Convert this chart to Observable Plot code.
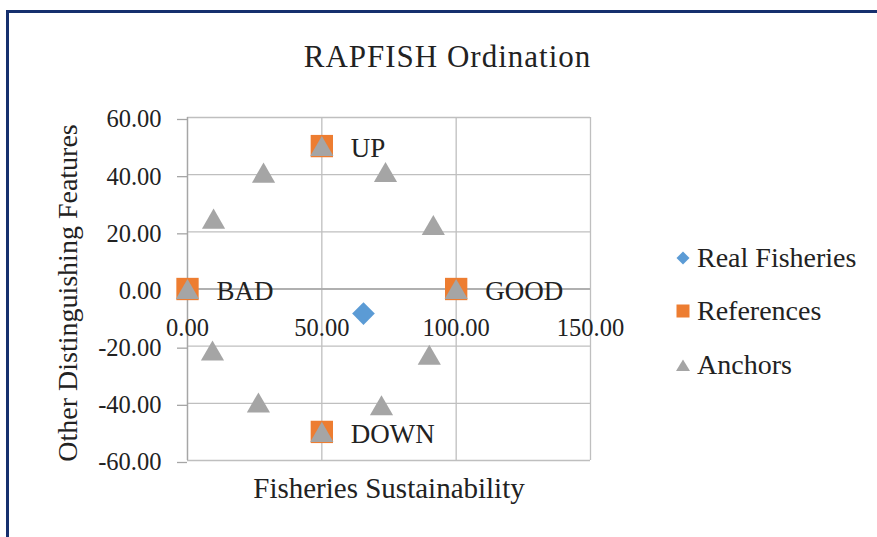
<!DOCTYPE html>
<html><head><meta charset="utf-8">
<script src="https://cdn.jsdelivr.net/npm/d3@7"></script>
<script src="https://cdn.jsdelivr.net/npm/@observablehq/plot@0.6"></script>
<style>
html,body{margin:0;padding:0;background:#fff;overflow:hidden;}
#wrap{position:relative;width:877px;height:537px;overflow:hidden;font-family:"Liberation Serif",serif;color:#222;}
#border{position:absolute;left:6px;top:10px;width:920px;height:600px;border:3px solid #16306E;box-sizing:border-box;z-index:2;pointer-events:none;}
#chart{position:absolute;left:0;top:0;}
#title{position:absolute;left:0;width:895px;top:39px;text-align:center;font-size:31px;line-height:36px;letter-spacing:1px;white-space:nowrap;}
.leg{position:absolute;left:676px;height:30px;line-height:30px;font-size:28px;white-space:nowrap;}
.leg svg{position:absolute;left:0;top:8px;}
.leg span{position:absolute;left:21px;top:0;}
</style>
</head><body>
<div id="wrap">
  <div id="chart"></div>
  <div id="title">RAPFISH Ordination</div>
  <div id="legend"></div>
  <div id="border"></div>
</div>
<script>
// ---- data ----
const xTicks = [0, 50, 100, 150];
const yTicks = [-60, -40, -20, 0, 20, 40, 60];

const realX = [65.5];
const realY = [-8.6];

const refLabels = ["BAD", "GOOD", "UP", "DOWN"];
const refX = [0, 100, 50, 50];
const refY = [0, 0, 50, -50];

const anchorX = [0, 100, 50, 50, 9.7, 28.3, 73.7, 91.5, 9.3, 26.4, 72.2, 90.0];
const anchorY = [0, 0, 50, -50, 24.6, 40.7, 40.9, 22.4, -21.5, -39.7, -40.7, -23.0];

const seriesNames = ["Real Fisheries", "References", "Anchors"];
const seriesColors = ["#5B9BD5", "#ED7D31", "#A5A5A5"];

// ---- tables built from arrays ----
const real = realX.map((x, i) => ({x, y: realY[i]}));
const refs = refX.map((x, i) => ({x, y: refY[i], label: refLabels[i]}));
const anchors = anchorX.map((x, i) => ({x, y: anchorY[i]}));

const fmt = d => d.toFixed(2);
const FONT = "Liberation Serif, serif";

const plot = Plot.plot({
  width: 877,
  height: 537,
  marginLeft: 187,
  marginRight: 287,
  marginTop: 117,
  marginBottom: 77,
  style: {fontFamily: FONT, color: "#222", background: "transparent", overflow: "visible"},
  x: {domain: [0, 150], ticks: xTicks},
  y: {domain: [-60, 60], ticks: yTicks},
  marks: [
    Plot.gridX(xTicks, {stroke: "#BFBFBF", strokeOpacity: 1, strokeWidth: 1.3}),
    Plot.gridY(yTicks, {stroke: "#BFBFBF", strokeOpacity: 1, strokeWidth: 1.3}),
    Plot.ruleX([0], {stroke: "#A6A6A6", strokeWidth: 1.3}),
    Plot.ruleY([0], {stroke: "#A6A6A6", strokeWidth: 1.3}),
    Plot.axisY(yTicks, {tickFormat: fmt, tickSize: 10, tickPadding: 16, fontSize: 24.5, dy: 2, stroke: "#A6A6A6", strokeWidth: 1.3, fill: "#222", label: null}),
    Plot.axisX({ticks: [], label: null}),
    Plot.text(xTicks, {x: d => d, y: () => 0, text: fmt, fontSize: 24.5, dy: 39, fill: "#222"}),
    Plot.text(["Fisheries Sustainability"], {frameAnchor: "bottom", lineAnchor: "middle", textAnchor: "middle", dy: 28, fontSize: 29, fill: "#222"}),
    Plot.text(["Other Distinguishing Features"], {frameAnchor: "left", lineAnchor: "middle", textAnchor: "middle", rotate: -90, dx: -119, dy: 4, fontSize: 28, fill: "#222"}),
    Plot.dot(real, {x: "x", y: "y", symbol: "diamond2", r: 10.2, fill: seriesColors[0], stroke: "none"}),
    Plot.dot(refs, {x: "x", y: "y", symbol: "square", r: 12.6, fill: seriesColors[1], stroke: "none"}),
    Plot.dot(anchors, {x: "x", y: "y", symbol: "triangle", r: 8.6, dy: 3.3, fill: seriesColors[2], stroke: "none"}),
    Plot.text(refs, {x: "x", y: "y", text: "label", textAnchor: "start", dx: 29, dy: 2, fontSize: 27, fill: "#222"})
  ]
});
document.getElementById("chart").appendChild(plot);

// ---- legend ----
const legendY = [258, 311, 365];
const legendSym = [
  '<svg width="14" height="14"><path d="M7,0.5L13.5,7L7,13.5L0.5,7Z" fill="' + seriesColors[0] + '"/></svg>',
  '<svg width="14" height="14"><rect x="0.5" y="0.5" width="13" height="13" fill="' + seriesColors[1] + '"/></svg>',
  '<svg width="14" height="14"><path d="M7,1.5L14,13L0,13Z" fill="' + seriesColors[2] + '"/></svg>'
];
const legend = document.getElementById("legend");
seriesNames.forEach((name, i) => {
  const row = document.createElement("div");
  row.className = "leg";
  row.style.top = (legendY[i] - 15) + "px";
  row.innerHTML = legendSym[i] + "<span>" + name + "</span>";
  legend.appendChild(row);
});
</script>
</body></html>
